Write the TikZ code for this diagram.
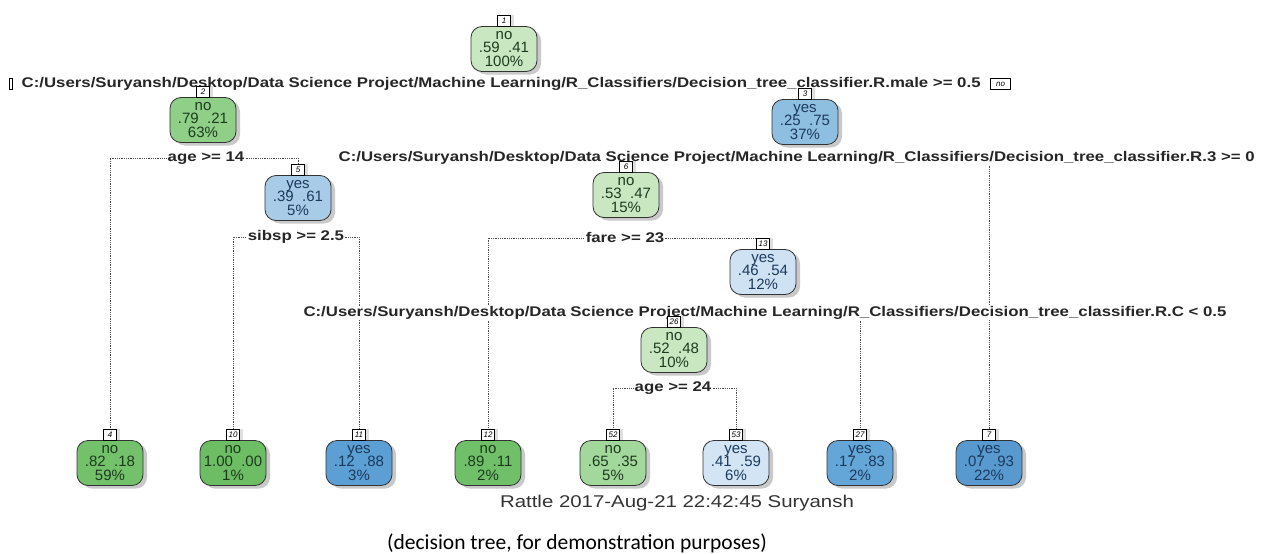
\documentclass[tikz,border=0pt]{standalone}
\usepackage{fontspec}
\setmainfont{Liberation Sans}
\newfontfamily\capfont{Carlito}
\usetikzlibrary{shadows,backgrounds}
\definecolor{g1}{HTML}{C9E8C2}
\definecolor{g2}{HTML}{8FCF87}
\definecolor{g4}{HTML}{74C16C}
\definecolor{g10}{HTML}{6CBD64}
\definecolor{g12}{HTML}{70C069}
\definecolor{g52}{HTML}{A3D89C}
\definecolor{b3}{HTML}{8FBFE0}
\definecolor{b5}{HTML}{A8CCE8}
\definecolor{b13}{HTML}{CFE2F3}
\definecolor{b11}{HTML}{5B9FD4}
\definecolor{b53}{HTML}{D3E4F4}
\definecolor{b27}{HTML}{64A6D8}
\definecolor{b7}{HTML}{5899CF}
\definecolor{gtext}{HTML}{1E3A1E}
\definecolor{btext}{HTML}{1C3A5C}
\newcommand{\wide}[1]{\scalebox{1.2}[1]{#1}}
\tikzset{
  x=1pt,y=-1pt,
  tbox/.style={draw=black!80, line width=0.8pt, rounded corners=11pt,
    minimum width=66pt, minimum height=45pt, inner sep=0pt, align=center,
    font=\fontsize{15}{13.6}\selectfont,
    drop shadow={shadow xshift=4pt, shadow yshift=-3pt, fill=black!30, opacity=0.7}},
  gbox/.style={tbox, text=gtext},
  bbox/.style={tbox, text=btext},
  numbox/.style={draw=black, fill=white, line width=0.6pt, inner sep=0pt,
    minimum width=13pt, minimum height=10.5pt, font=\fontsize{8}{8}\itshape\selectfont,
    anchor=south, drop shadow={shadow xshift=3pt, shadow yshift=0pt, fill=black!25}},
  split/.style={fill=white, inner sep=0.5pt, font=\fontsize{14}{14}\bfseries\selectfont, text=black!85},
  dotline/.style={densely dotted, line width=0.8pt, black!70}
}
\begin{document}
\begin{tikzpicture}
\useasboundingbox (0,0) rectangle (1269,554);
% split labels
\node[split, anchor=west] (s1) at (21,84) {\wide{C:/Users/Suryansh/Desktop/Data Science Project/Machine Learning/R\_Classifiers/Decision\_tree\_classifier.R.male >= 0.5}};
\node[split, anchor=west] (s3) at (338,158) {\wide{C:/Users/Suryansh/Desktop/Data Science Project/Machine Learning/R\_Classifiers/Decision\_tree\_classifier.R.3 >= 0}};
\node[split] (s2) at (206,158) {\wide{age >= 14}};
\node[split] (s5) at (296,237) {\wide{sibsp >= 2.5}};
\node[split] (s6) at (625,238) {\wide{fare >= 23}};
\node[split] (s13) at (765,313) {\wide{C:/Users/Suryansh/Desktop/Data Science Project/Machine Learning/R\_Classifiers/Decision\_tree\_classifier.R.C < 0.5}};
\node[split] (s26) at (673,388) {\wide{age >= 24}};
% yes / no boxes
\node[draw=black, line width=0.6pt, minimum width=3pt, minimum height=11pt, inner sep=0pt] (yesb) at (11,84) {};
\node[draw=black, fill=white, line width=0.6pt, inner sep=1pt, minimum width=20pt, minimum height=10.5pt, font=\fontsize{8}{8}\itshape\selectfont, anchor=west, xshift=9pt] (nob) at (s1.east) {no};
% nodes
\node[gbox, fill=g1] (n1) at (504,49) {no\\.59\ \ .41\\100\%};
\node[gbox, fill=g2] (n2) at (203,120) {no\\.79\ \ .21\\63\%};
\node[bbox, fill=b3] (n3) at (805,122) {yes\\.25\ \ .75\\37\%};
\node[bbox, fill=b5] (n5) at (298,198) {yes\\.39\ \ .61\\5\%};
\node[gbox, fill=g1] (n6) at (626,195) {no\\.53\ \ .47\\15\%};
\node[bbox, fill=b13] (n13) at (763,272) {yes\\.46\ \ .54\\12\%};
\node[gbox, fill=g1] (n26) at (674,350) {no\\.52\ \ .48\\10\%};
\node[gbox, fill=g4] (n4) at (110,463) {no\\.82\ \ .18\\59\%};
\node[gbox, fill=g10] (n10) at (233,463) {no\\1.00\ \ .00\\1\%};
\node[bbox, fill=b11] (n11) at (359,463) {yes\\.12\ \ .88\\3\%};
\node[gbox, fill=g12] (n12) at (488,463) {no\\.89\ \ .11\\2\%};
\node[gbox, fill=g52] (n52) at (613,463) {no\\.65\ \ .35\\5\%};
\node[bbox, fill=b53] (n53) at (736,463) {yes\\.41\ \ .59\\6\%};
\node[bbox, fill=b27] (n27) at (860,463) {yes\\.17\ \ .83\\2\%};
\node[bbox, fill=b7] (n7) at (989,463) {yes\\.07\ \ .93\\22\%};
% number labels
\foreach \n in {1,2,3,5,6,13,26,4,10,11,12,52,53,27,7}
  \node[numbox] (l\n) at (n\n.north) {\n};
% connectors
\begin{scope}[on background layer]
\draw[dotline] (s1.center) -| (l2.north);
\draw[dotline] (s1.center) -| (l3.north);
\draw[dotline] (s2.center) -| (l4.north);
\draw[dotline] (s2.center) -| (l5.north);
\draw[dotline] (s3.center) -| (l6.north);
\draw[dotline] (s3.center) -| (l7.north);
\draw[dotline] (s5.center) -| (l10.north);
\draw[dotline] (s5.center) -| (l11.north);
\draw[dotline] (s6.center) -| (l12.north);
\draw[dotline] (s6.center) -| (l13.north);
\draw[dotline] (s13.center) -| (l26.north);
\draw[dotline] (s13.center) -| (l27.north);
\draw[dotline] (s26.center) -| (l52.north);
\draw[dotline] (s26.center) -| (l53.north);
\end{scope}
% captions
\node[font=\fontsize{17}{17}\selectfont, text=black!80] (rattle) at (677,503) {\wide{Rattle 2017-Aug-21 22:42:45 Suryansh}};
\node[font=\capfont\fontsize{21.5}{21.5}\selectfont, text=black] (cap) at (577,543) {(decision tree, for demonstration purposes)};
\end{tikzpicture}
\end{document}
